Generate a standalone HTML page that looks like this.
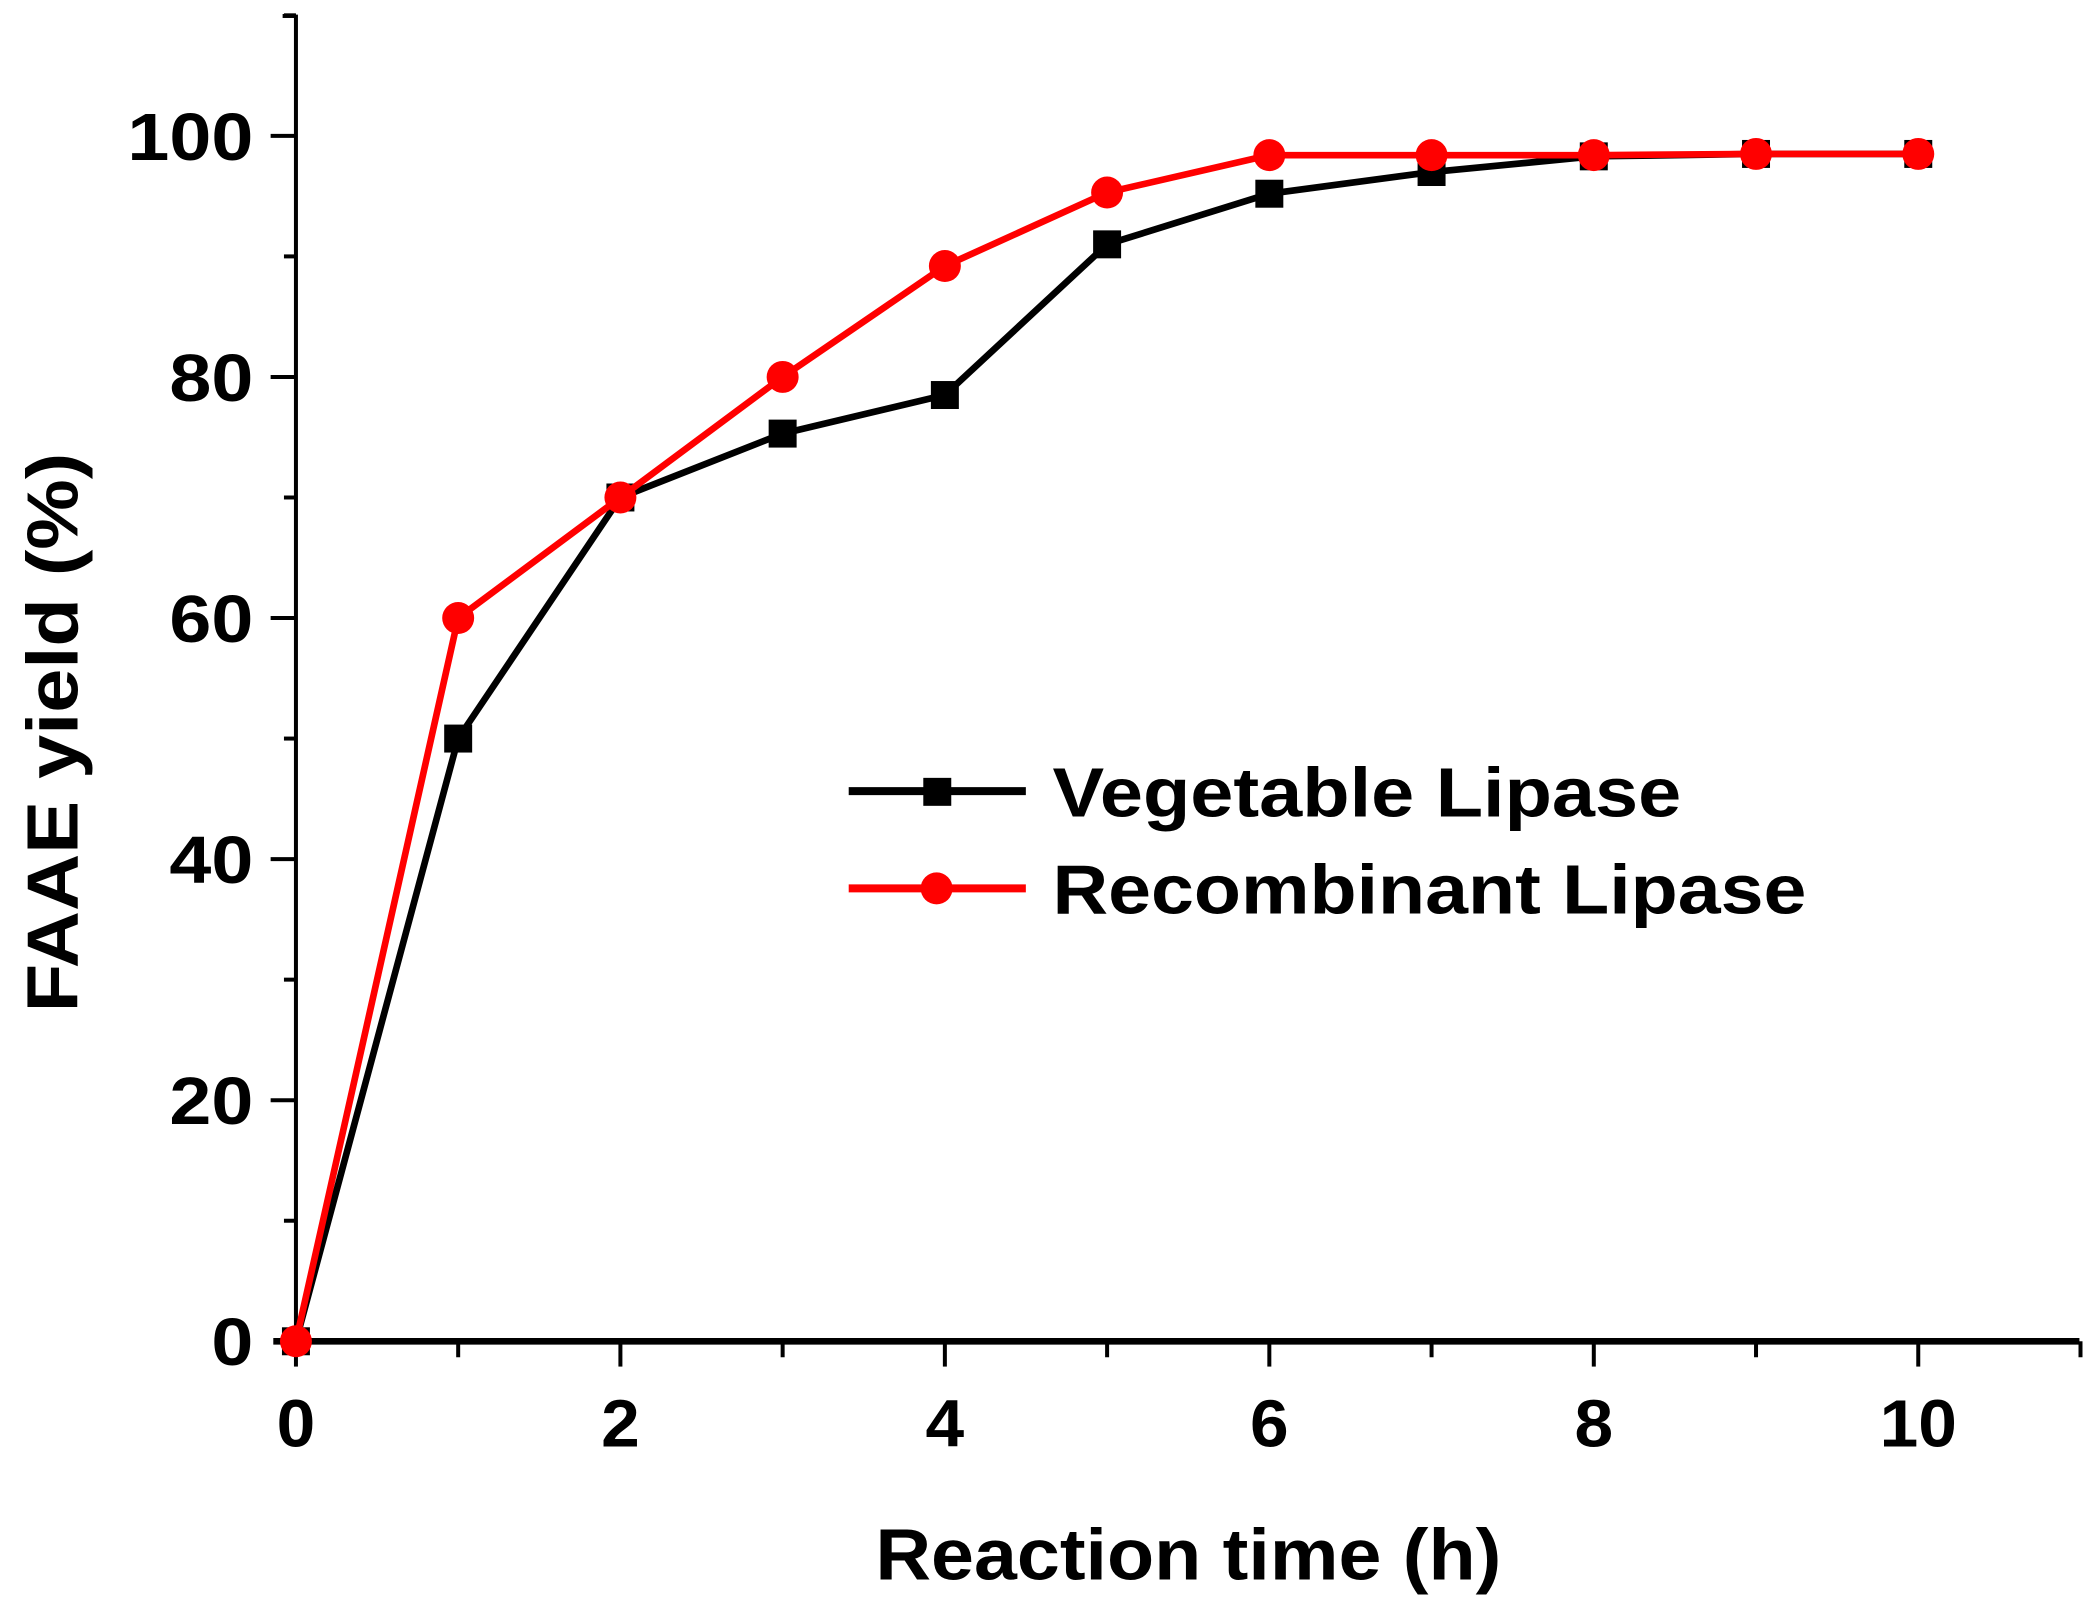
<!DOCTYPE html>
<html><head><meta charset="utf-8"><style>
html,body{margin:0;padding:0;background:#fff;}
svg{display:block;font-family:"Liberation Sans",Arial,sans-serif;font-weight:bold;}
</style></head><body>
<svg id="chart" width="2089" height="1605" viewBox="0 0 1568 1205" xmlns="http://www.w3.org/2000/svg">
<g id="axes"></g>
<g id="series"></g>
<text x="657" y="1186" font-size="54" textLength="470" lengthAdjust="spacingAndGlyphs">Reaction time (h)</text>
<text transform="translate(58,760) rotate(-90)" font-size="54" textLength="420" lengthAdjust="spacingAndGlyphs">FAAE yield (%)</text>
<g>
  <line x1="637" y1="594" x2="770" y2="594" stroke="#000" stroke-width="6"/>
  <rect x="693" y="584" width="21" height="21" fill="#000"/>
  <text x="790" y="613" font-size="52" textLength="472" lengthAdjust="spacingAndGlyphs">Vegetable Lipase</text>
  <line x1="637" y1="667" x2="770" y2="667" stroke="#f00" stroke-width="6"/>
  <circle cx="703" cy="667" r="12" fill="#f00"/>
  <text x="790" y="686" font-size="52" textLength="566" lengthAdjust="spacingAndGlyphs">Recombinant Lipase</text>
</g>
</svg>
<script>
const times = [0,1,2,3,4,5,6,7,8,9,10];
const vegetable = [0,50,70,75.3,78.5,91,95.2,97,98.3,98.5,98.5];
const recombinant = [0,60,70,80,89.2,95.3,98.4,98.4,98.4,98.5,98.5];
const xTicks = [0,2,4,6,8,10];
const yTicks = [0,20,40,60,80,100];
const NS='http://www.w3.org/2000/svg';
function xs(v){return 222+v*121.8;}
function ys(v){return 1007-v*9.05;}
function mk(tag,attrs,parent){const e=document.createElementNS(NS,tag);for(const k in attrs)e.setAttribute(k,attrs[k]);parent.appendChild(e);return e;}
const ax=document.getElementById('axes');
let l=mk('line',{x1:222,y1:11,x2:222,y2:1009,stroke:'#000','stroke-width':3},ax);


l=mk('line',{x1:205,y1:1007,x2:1561,y2:1007,stroke:'#000','stroke-width':5},ax);


l=mk('line',{x1:212,y1:12,x2:222,y2:12,stroke:'#000','stroke-width':3},ax);


for(let v=0;v<=11;v++){const major=v%2===0;
 const t=mk('line',{x1:xs(v),y1:1007,x2:xs(v),y2:1007+(major?19:12),stroke:'#000','stroke-width':3},ax);
 
 }
for(let v=10;v<=110;v+=10){const major=v%20===0;
 const t=mk('line',{x1:222-(major?19:9),y1:ys(v),x2:222,y2:ys(v),stroke:'#000','stroke-width':3},ax);
 
 }
xTicks.forEach(v=>{const s=String(v);const w=s.length*29;
 const t=mk('text',{x:xs(v)-w/2,y:1086,'font-size':50,textLength:w,lengthAdjust:'spacingAndGlyphs'},ax);t.textContent=s;
 
 });
yTicks.forEach(v=>{const s=String(v);const w=s.length*31.5;
 const t=mk('text',{x:190-w,y:ys(v)+18,'font-size':50,textLength:w,lengthAdjust:'spacingAndGlyphs'},ax);t.textContent=s;
 
 });
const sg=document.getElementById('series');
function draw(vals,color,shape,name){
 const p=mk('polyline',{points:times.map((t,i)=>xs(t)+','+ys(vals[i])).join(' '),fill:'none',stroke:color,'stroke-width':5,'stroke-linejoin':'round'},sg);
 
 
 times.forEach((t,i)=>{let m;
  if(shape==='square')m=mk('rect',{x:xs(t)-10.5,y:ys(vals[i])-10.5,width:21,height:21,fill:color},sg);
  else m=mk('circle',{cx:xs(t),cy:ys(vals[i]),r:12,fill:color},sg);
  
  });
}
draw(vegetable,'#000','square','vegetable-lipase');
draw(recombinant,'#f00','circle','recombinant-lipase');
</script>
</body></html>
